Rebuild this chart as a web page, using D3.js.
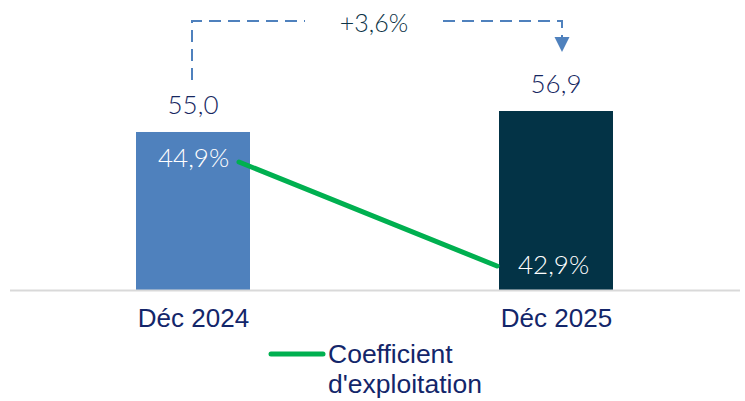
<!DOCTYPE html>
<html>
<head>
<meta charset="utf-8">
<script src="https://cdn.jsdelivr.net/npm/d3@7"></script>
<style>
  body { margin: 0; background: #fff; }
  .value { font-family: Lato, "Open Sans", sans-serif; font-weight: 300; font-size: 26px; fill: #16275f; }
  .pct { font-family: Lato, "Open Sans", sans-serif; font-weight: 300; font-size: 26px; fill: #fff; }
  .cat { font-family: "Liberation Sans", Arial, sans-serif; font-size: 26px; fill: #13266a; }
  .legend { font-family: "Liberation Sans", Arial, sans-serif; font-size: 26.5px; fill: #13266a; }
  .growth { font-family: Lato, "Open Sans", sans-serif; font-weight: 300; font-size: 25px; fill: #0d3447; }
</style>
</head>
<body>
<svg id="chart" width="745" height="401"></svg>
<script>
const categories = ["Déc 2024", "Déc 2025"];
const barValues = [55.0, 56.9];
const barLabels = ["55,0", "56,9"];
const ratioValues = [44.9, 42.9];
const ratioLabels = ["44,9%", "42,9%"];
const growthLabel = "+3,6%";
const legendLines = ["Coefficient", "d'exploitation"];

const barColors = ["#4f81bd", "#033346"];
const green = "#00b050";
const annoColor = "#4f81bd";

const svg = d3.select("#chart");

const x = d3.scalePoint().domain(categories).range([193, 556]);
const barW = 114;
const yBar = d3.scaleLinear().domain([40.7, 56.9]).range([290, 111]);
const yLine = d3.scaleLinear().domain([42.9, 44.9]).range([266, 162]);
const lineOffsets = [46, -59];

// bars
svg.selectAll("rect.bar").data(barValues).enter().append("rect")
    .attr("class", "bar")
    .attr("x", (d, i) => x(categories[i]) - barW / 2)
    .attr("width", barW)
    .attr("y", d => yBar(d))
    .attr("height", d => yBar.range()[0] - yBar(d))
    .attr("fill", (d, i) => barColors[i]);

// baseline axis
const xAxis = d3.axisBottom(x).tickSize(0).tickPadding(19);
const ax = svg.append("g").attr("transform", "translate(0,290)").call(xAxis);
ax.select(".domain").remove();
ax.selectAll("text").attr("class", "cat").attr("font-size", null).attr("font-family", null).attr("fill", null);
svg.append("line").attr("x1", 10).attr("x2", 740).attr("y1", 290.5).attr("y2", 290.5)
    .attr("stroke", "#d9d9d9").attr("stroke-width", 2);

// bar value labels
svg.selectAll("text.value").data(barValues).enter().append("text")
    .attr("class", "value")
    .attr("x", (d, i) => x(categories[i]))
    .attr("y", d => yBar(d) - 18)
    .attr("text-anchor", "middle")
    .text((d, i) => barLabels[i]);

// ratio line
const linePts = ratioValues.map((v, i) => [x(categories[i]) + lineOffsets[i], yLine(v)]);
svg.append("path").attr("d", d3.line()(linePts))
    .attr("fill", "none").attr("stroke", green).attr("stroke-width", 5).attr("stroke-linecap", "round");

svg.selectAll("text.pct").data(ratioValues).enter().append("text")
    .attr("class", "pct")
    .attr("x", (d, i) => x(categories[i]) + lineOffsets[i])
    .attr("dx", (d, i) => i === 0 ? -81 : 21)
    .attr("y", d => yLine(d) + 5)
    .attr("dy", (d, i) => i === 0 ? 0 : 3)
    .text((d, i) => ratioLabels[i]);

// growth annotation
const ay = 21;
const x0 = x(categories[0]) - 1, x1 = x(categories[1]) + 6;
const dash = "12,7";
svg.append("path")
    .attr("d", `M${x0},${yBar(barValues[0]) - 52} V${ay} H305`)
    .attr("fill", "none").attr("stroke", annoColor).attr("stroke-width", 2).attr("stroke-dasharray", dash);
svg.append("path")
    .attr("d", `M443,${ay} H${x1} V38`)
    .attr("fill", "none").attr("stroke", annoColor).attr("stroke-width", 2).attr("stroke-dasharray", dash);
svg.append("path")
    .attr("d", `M${x1 - 7.5},37 L${x1 + 7.5},37 L${x1},52 Z`)
    .attr("fill", annoColor);
svg.append("text").attr("class", "growth")
    .attr("x", (305 + 443) / 2).attr("y", 32).attr("text-anchor", "middle")
    .text(growthLabel);

// legend
svg.append("line").attr("x1", 271).attr("x2", 323).attr("y1", 354).attr("y2", 354)
    .attr("stroke", green).attr("stroke-width", 5).attr("stroke-linecap", "round");
svg.selectAll("text.legend").data(legendLines).enter().append("text")
    .attr("class", "legend")
    .attr("x", 328)
    .attr("y", (d, i) => 363 + i * 30)
    .text(d => d);
</script>
</body>
</html>
